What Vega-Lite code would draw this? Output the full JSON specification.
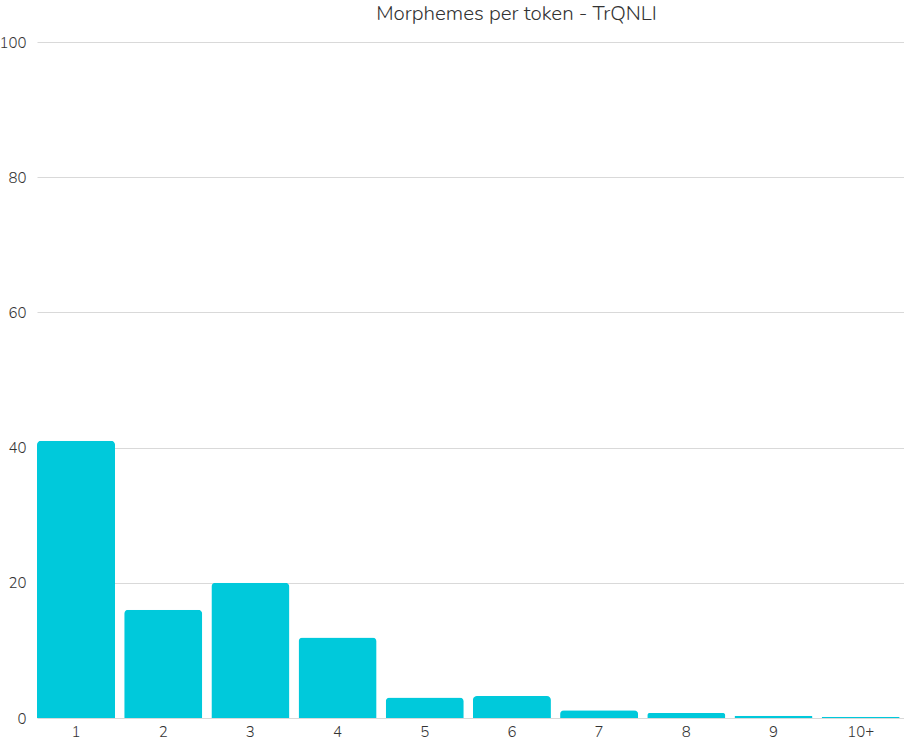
{
  "$schema": "https://vega.github.io/schema/vega-lite/v6.json",
  "width": 867,
  "height": 676,
  "autosize": {"type": "none"},
  "padding": {"left": 37, "top": 42, "right": 0, "bottom": 25},
  "background": "white",
  "title": {
    "text": "Morphemes per token - TrQNLI",
    "anchor": "middle",
    "dx": 46,
    "offset": 11,
    "font": "Nunito, Lato, sans-serif",
    "fontSize": 20.5,
    "fontWeight": 300,
    "color": "#333333"
  },
  "data": {
    "values": [
      {"bin": "1", "value": 41.0},
      {"bin": "2", "value": 16.0},
      {"bin": "3", "value": 20.0},
      {"bin": "4", "value": 11.9},
      {"bin": "5", "value": 3.05},
      {"bin": "6", "value": 3.25},
      {"bin": "7", "value": 1.15},
      {"bin": "8", "value": 0.75},
      {"bin": "9", "value": 0.34},
      {"bin": "10+", "value": 0.2}
    ]
  },
  "mark": {
    "type": "bar",
    "color": "#00C9DB",
    "cornerRadiusTopLeft": 4,
    "cornerRadiusTopRight": 4
  },
  "encoding": {
    "x": {
      "field": "bin",
      "type": "ordinal",
      "sort": null,
      "scale": {"paddingInner": 0.105, "paddingOuter": 0.025, "align": 0},
      "axis": {
        "title": null,
        "labelAngle": 0,
        "ticks": false,
        "domain": false,
        "labelFont": "Nunito, Lato, sans-serif",
        "labelFontSize": 15,
        "labelFontWeight": 300,
        "labelColor": "#333333",
        "labelPadding": 6
      }
    },
    "y": {
      "field": "value",
      "type": "quantitative",
      "scale": {"domain": [0, 100], "nice": false},
      "axis": {
        "title": null,
        "values": [0, 20, 40, 60, 80, 100],
        "ticks": false,
        "domain": false,
        "grid": true,
        "gridColor": "#d9d9d9",
        "labelFont": "Nunito, Lato, sans-serif",
        "labelFontSize": 15,
        "labelFontWeight": 300,
        "labelColor": "#333333",
        "labelPadding": 11
      }
    }
  },
  "config": {"view": {"stroke": null}}
}
